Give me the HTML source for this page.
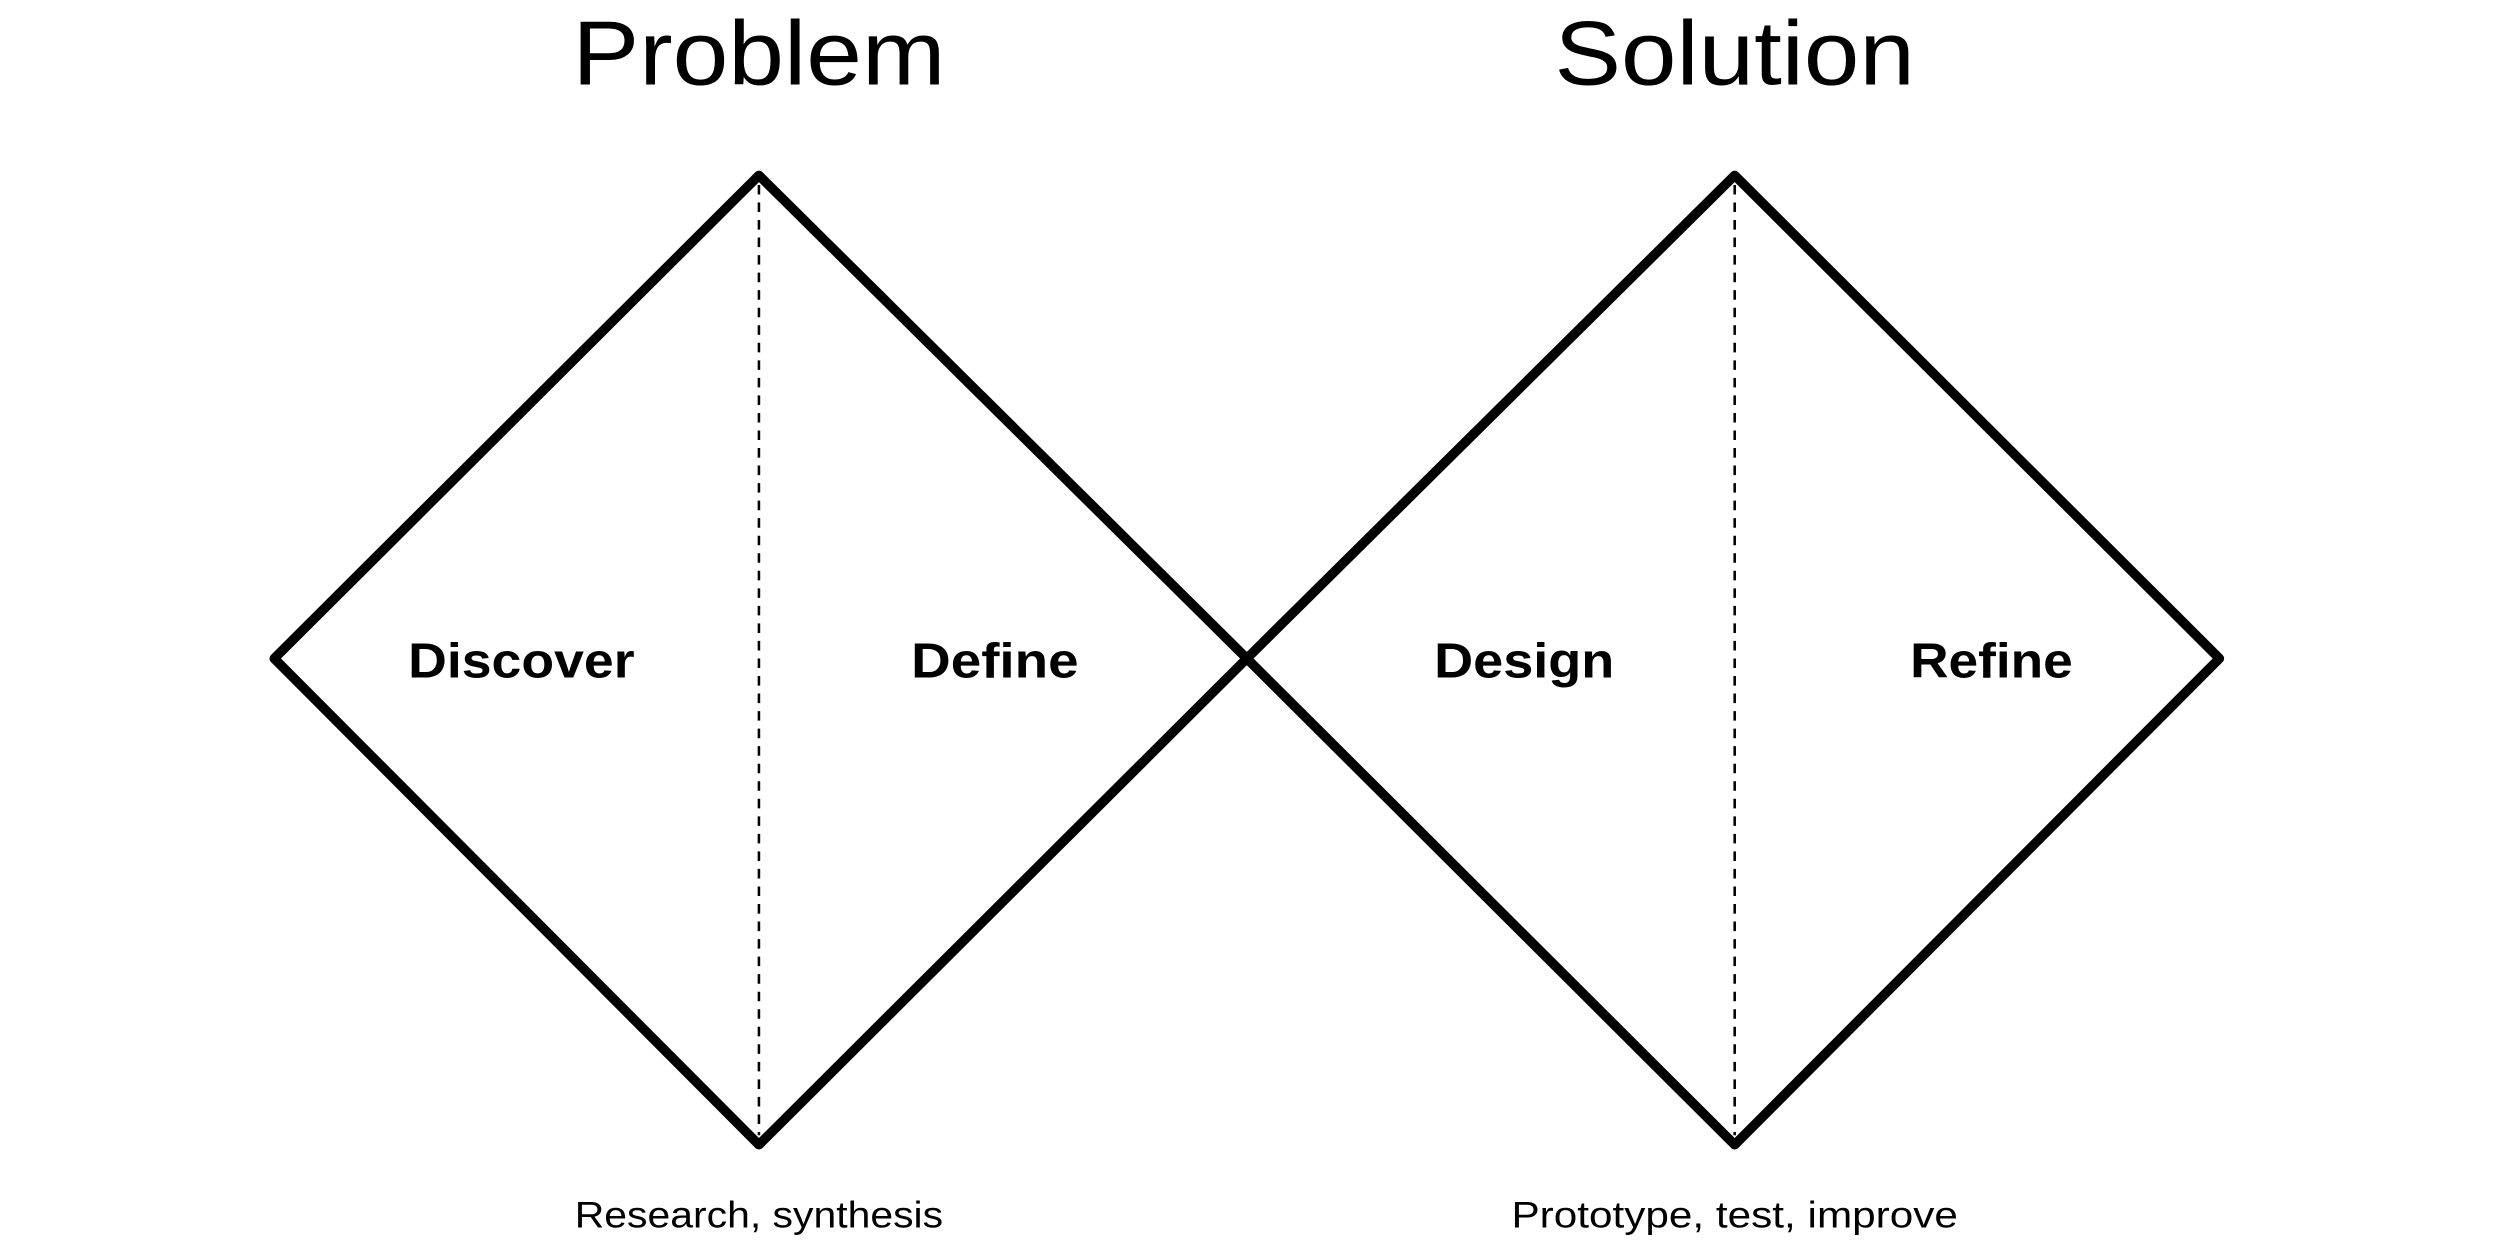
<!DOCTYPE html>
<html><head><meta charset="utf-8"><style>
html,body{margin:0;padding:0;background:#fff;width:2500px;height:1257px;overflow:hidden}
svg{display:block}
text{font-family:"Liberation Sans","DejaVu Sans",sans-serif;fill:#000}
</style></head><body>
<svg width="2500" height="1257" viewBox="0 0 1568 788.4" preserveAspectRatio="none">
<g fill="none" stroke="#000" stroke-width="6" stroke-linejoin="round">
<polygon points="476,110 782,413 476,718 172,413"/>
<polygon points="1088,110 1392,413 1088,718 782,413"/>
</g>
<g stroke="#000" stroke-width="1.6" stroke-dasharray="6,5">
<line x1="476" y1="116" x2="476" y2="712"/>
<line x1="1088" y1="116" x2="1088" y2="712"/>
</g>
<g text-anchor="middle" font-size="57" lengthAdjust="spacingAndGlyphs">
<text x="476" y="53" textLength="234" lengthAdjust="spacingAndGlyphs">Problem</text>
<text x="1088" y="53" textLength="226" lengthAdjust="spacingAndGlyphs">Solution</text>
</g>
<g font-size="31" text-anchor="middle" font-weight="bold">
<text x="327" y="425" textLength="142" lengthAdjust="spacingAndGlyphs">Discover</text>
<text x="624" y="425" textLength="105" lengthAdjust="spacingAndGlyphs">Define</text>
<text x="956" y="425" textLength="113" lengthAdjust="spacingAndGlyphs">Design</text>
<text x="1249" y="425" textLength="102" lengthAdjust="spacingAndGlyphs">Refine</text>
</g>
<g font-size="23" text-anchor="middle">
<text x="476" y="770" textLength="231" lengthAdjust="spacingAndGlyphs">Research, synthesis</text>
<text x="1088" y="770" textLength="280" lengthAdjust="spacingAndGlyphs">Prototype, test, improve</text>
</g>
</svg>
</body></html>
